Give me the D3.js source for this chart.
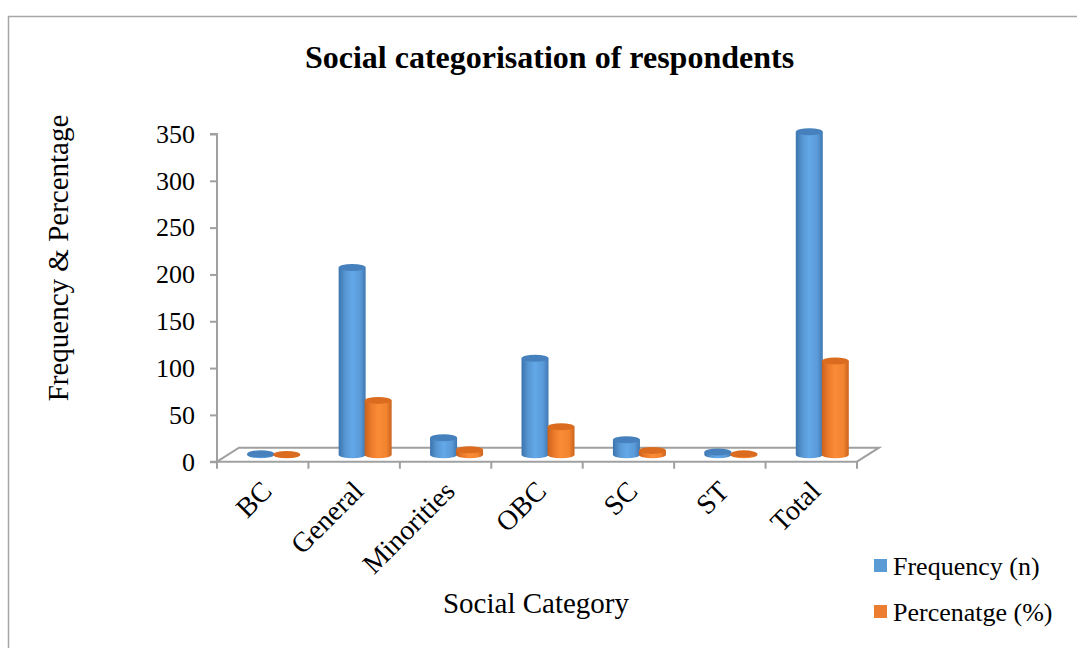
<!DOCTYPE html>
<html><head><meta charset="utf-8">
<script src="https://cdn.jsdelivr.net/npm/d3@7"></script>
<style>body{margin:0;background:#fff}</style>
</head><body><svg id="c" width="1077" height="648"></svg>
<script>
const categories = ["BC","General","Minorities","OBC","SC","ST","Total"];
const frequency = [1,200,18,103,16,3,345];
const percentage = [0.3,58,5.2,29.9,4.6,0.9,100];
const yTicks = [0,50,100,150,200,250,300,350];
const seriesNames = ["Frequency (n)","Percenatge (%)"];

const FONT = "'Liberation Serif','Times New Roman',serif";
const svg = d3.select("#c");
const defs = svg.append("defs");

// frame
svg.append("rect").attr("x",8.5).attr("y",16.5).attr("width",1100).attr("height",700)
  .attr("fill","none").attr("stroke","#a6a6a6").attr("stroke-width",1.5);

const x = d3.scaleBand().domain(categories).range([217,857]);
const y = d3.scaleLinear().domain([0,350]).range([461.7,134]);
const s = d3.scaleBand().domain([0,1]).range([-26,26]);
const DX = 22, DY = -14;           // floor depth
const MX = DX/2, MY = DY/2;        // bar depth (mid)

// gradients
function grad(id, stops){
  const g = defs.append("linearGradient").attr("id",id).attr("x1","0").attr("x2","1").attr("y1","0").attr("y2","0");
  stops.forEach(([o,c])=>g.append("stop").attr("offset",o).attr("stop-color",c));
}
grad("gBlue",[[0,"#3b74ad"],[0.25,"#5797d3"],[0.5,"#63a8e8"],[0.8,"#5a9ad8"],[1,"#3f78b2"]]);
grad("gOrange",[[0,"#c9621c"],[0.25,"#ec7b2c"],[0.5,"#fb8c37"],[0.8,"#f3842f"],[1,"#c9631e"]]);
const sideFill = ["url(#gBlue)","url(#gOrange)"];
const topFill = ["#4680bd","#db6c1f"];
const legendFill = ["#5b9bd5","#ed7d31"];

// floor
const axisCol = "#a0a0a0";
const y0 = y(0), xL = x.range()[0], xR = x.range()[1];
const floor = svg.append("g").attr("fill","none").attr("stroke",axisCol).attr("stroke-width",2);
floor.append("path").attr("d",`M${xL},${y0}L${xL+DX},${y0+DY}L${xR+DX},${y0+DY}L${xR},${y0}`);

// bars
const series = [frequency, percentage];
const rx = 13.5, ry = 3.5;
const bars = svg.append("g");
categories.forEach((c,i)=>{
  series.forEach((vals,k)=>{
    const cx = x(c) + x.bandwidth()/2 + MX + s(k) + s.bandwidth()/2;
    const yb = y(0) + MY, yt = y(vals[i]) + MY;
    bars.append("path")
      .attr("d",`M${cx-rx},${yt}L${cx-rx},${yb}A${rx},${ry} 0 0 0 ${cx+rx},${yb}L${cx+rx},${yt}Z`)
      .attr("fill",sideFill[k]);
    bars.append("ellipse").attr("cx",cx).attr("cy",yt).attr("rx",rx).attr("ry",ry)
      .attr("fill",topFill[k]);
  });
});

// front axis line + ticks
const xa = svg.append("g").attr("stroke",axisCol).attr("stroke-width",2);
xa.append("line").attr("x1",xL).attr("x2",xR).attr("y1",y0).attr("y2",y0);
const edges = categories.map(c=>x(c)).concat([xR]);
xa.selectAll("line.t").data(edges).enter().append("line").attr("class","t")
  .attr("x1",d=>d).attr("x2",d=>d).attr("y1",y0).attr("y2",y0+7);

// y axis
const ya = svg.append("g").attr("transform",`translate(${xL},0)`)
  .call(d3.axisLeft(y).tickValues(yTicks).tickSize(7).tickPadding(15).tickFormat(d3.format("d")));
ya.attr("font-family",FONT).attr("font-size",26);
ya.select(".domain").attr("stroke",axisCol).attr("stroke-width",2).attr("d",`M-7,${y(350)}H0V${y0}H-7`);
ya.selectAll(".tick line").attr("stroke",axisCol).attr("stroke-width",2);
ya.selectAll(".tick text").attr("fill","#000").style("font-family",FONT).style("font-size","26px");

// x labels
svg.append("g").selectAll("text").data(categories).enter().append("text")
  .attr("transform",d=>`translate(${x(d)+x.bandwidth()/2-3},479) rotate(-45)`)
  .attr("text-anchor","end").attr("dy","0.7em")
  .style("font-family",FONT).style("font-size","28px").text(d=>d);

// titles
svg.append("text").attr("x",549.5).attr("y",68).attr("text-anchor","middle")
  .style("font-family",FONT).style("font-size","32px").style("font-weight","bold")
  .text("Social categorisation of respondents");
svg.append("text").attr("transform","translate(68,258) rotate(-90)").attr("text-anchor","middle")
  .style("font-family",FONT).style("font-size","29px").text("Frequency & Percentage");
svg.append("text").attr("x",536).attr("y",613).attr("text-anchor","middle")
  .style("font-family",FONT).style("font-size","29px").text("Social Category");

// legend
const lg = svg.append("g");
seriesNames.forEach((n,k)=>{
  const yy = 559 + k*46;
  lg.append("rect").attr("x",874).attr("y",yy).attr("width",13).attr("height",13).attr("fill",legendFill[k]);
  lg.append("text").attr("x",893).attr("y",yy+16).style("font-family",FONT).style("font-size","26px").text(n);
});
</script></body></html>
